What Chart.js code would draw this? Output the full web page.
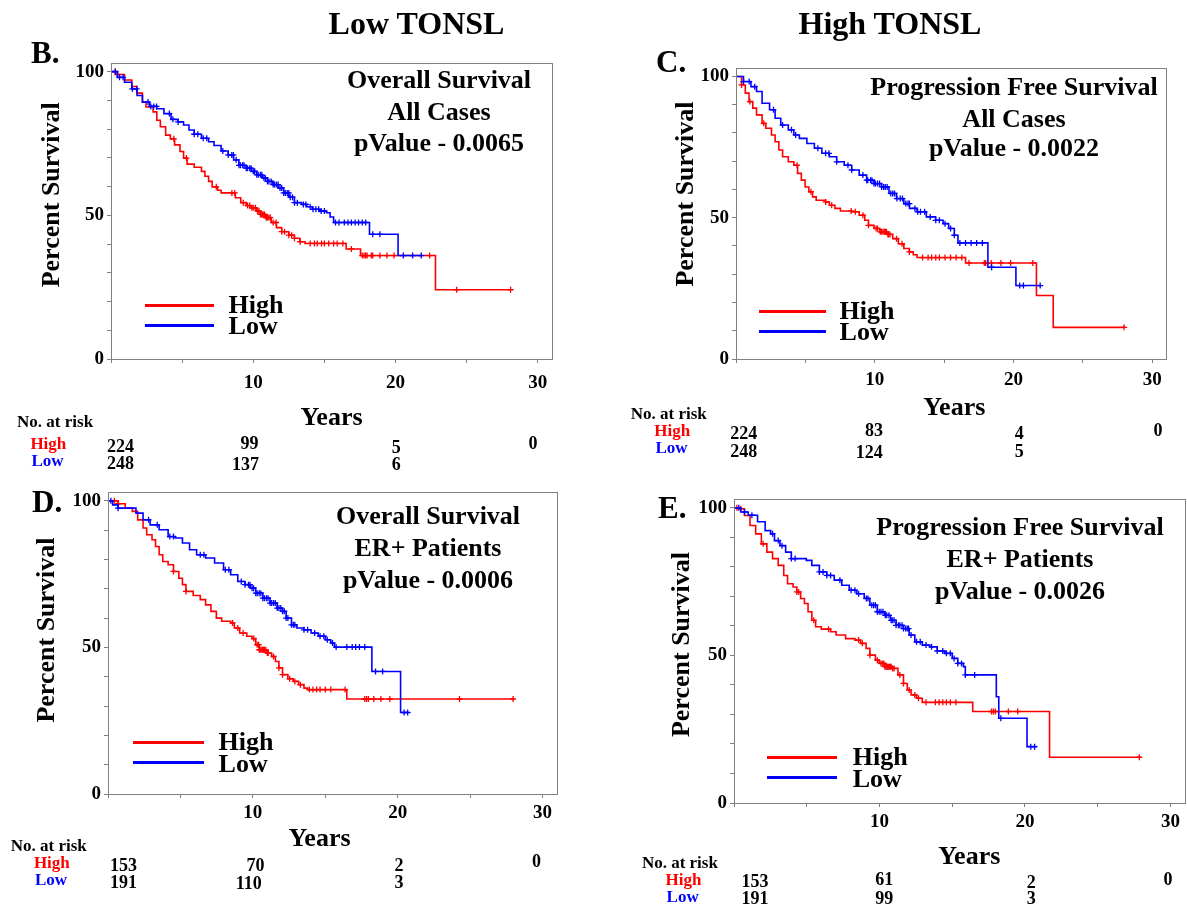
<!DOCTYPE html>
<html><head><meta charset="utf-8">
<script src="https://cdn.jsdelivr.net/npm/chart.js@4.4.1/dist/chart.umd.min.js"></script>
<style>
html,body{margin:0;padding:0;width:1187px;height:905px;overflow:hidden;background:#fff;}
.t{position:absolute;font-family:"Liberation Serif","Times New Roman",Times,serif;font-weight:bold;white-space:pre;line-height:1;color:#000;z-index:5;}
canvas{position:absolute;z-index:1;}
.lg{position:absolute;height:3px;z-index:5;}
</style></head><body>
<script>
// ---------------- DATA ----------------
const groups = ['High', 'Low'];
const xTickLabels = [10, 20, 30];
const yTickLabels = [0, 50, 100];
const headerTitles = ['Low TONSL', 'High TONSL'];

// Panel B : Overall survival, all cases
const B_high_t = [0,0.45,0.95,1.46,1.83,2.21,2.46,2.96,3.22,3.47,3.84,4.17,4.47,4.85,5.1,5.35,5.85,6.36,6.6,6.86,7.11,7.49,7.74,8.74,9.12,9.5,9.87,10.25,10.5,10.88,11.26,11.63,12.0,12.5,12.89,13.27,13.64,16.53,17.54,22.81,28.09];
const B_high_s = [100,99,97.1,94.8,92.5,89.4,87.7,86,83.1,80.8,77.9,76.6,74.5,72.2,69.9,67.8,66.7,65.3,63.6,61.8,59.9,58.7,57.8,56.1,54.4,53.4,52.6,51.5,50.3,49.2,47.5,45.7,44.3,43.1,42,40.8,40.2,38.3,36.0,24.1,24.1];
const B_high_c = [0.3,0.45,4.42,5.3,7.4,8.5,8.7,9.3,9.6,9.75,9.9,10.0,10.15,10.3,10.4,10.5,10.6,10.65,10.7,10.8,10.9,10.95,11.0,11.1,11.2,11.4,11.6,12.0,12.2,12.5,12.7,12.9,13.3,14.0,14.3,14.5,14.8,15.0,15.3,15.65,15.9,16.3,16.9,17.66,17.79,17.9,18.0,18.3,18.4,18.9,19.4,19.9,22.4,24.3,28.09];
const B_low_t = [0,0.45,0.95,1.46,1.83,2.21,2.71,3.22,3.72,4.22,4.72,5.1,5.48,5.85,6.36,6.86,7.24,7.74,8.24,8.62,8.99,9.5,9.87,10.25,10.63,11.0,11.38,11.76,12.14,12.51,12.89,13.39,13.77,14.15,14.65,15.15,15.4,15.65,18.17,20.18,21.81];
const B_low_s = [100,98,96.3,94,91.7,89.4,87.9,87.1,85.4,83.4,82.5,81.4,79.7,78.2,76.8,75.6,74.3,72.4,71,69.3,67.4,66.4,65.3,64.1,63,61.8,60.7,59.5,57.8,56.3,54.4,53.8,53,52.1,51.5,50.9,49.4,47.5,43.4,36.0,36.0];
const B_low_c = [0.3,0.6,0.85,1.5,1.8,2.6,2.8,3.0,3.2,4.1,4.35,4.72,5.85,6.1,6.48,6.73,7.86,8.24,8.49,8.6,8.8,9.0,9.1,9.25,9.35,9.5,9.6,9.75,9.85,10.0,10.1,10.25,10.35,10.5,10.6,10.75,10.85,11.0,11.1,11.26,11.4,11.5,11.63,11.75,11.88,12.0,12.14,12.25,12.39,12.5,12.6,12.76,12.9,13.1,13.52,13.7,14.0,14.2,14.4,14.6,14.77,15.0,15.78,16.03,16.4,16.66,16.9,17.16,17.4,17.66,17.9,18.4,18.9,20.55,21.2,21.81];
const B_riskHigh = [224, 99, 5, 0];
const B_riskLow = [248, 137, 6];
const B_text = ['Overall Survival', 'All Cases', 'pValue - 0.0065'];

// Panel C : Progression free survival, all cases
const C_high_t = [0,0.4,0.67,0.94,1.21,1.48,1.88,2.15,2.56,2.82,3.09,3.36,3.77,4.17,4.44,4.71,4.98,5.25,5.52,5.78,6.46,6.73,7.13,7.53,8.34,8.88,9.28,9.55,9.95,10.36,10.9,11.3,11.7,12.1,12.5,12.78,13.05,16.55,21.66,22.87,27.98];
const C_high_s = [100,97,94.1,91.1,88.8,86.4,83.4,81.7,79.3,76.9,74,71.6,69.8,68.6,65.7,63.3,60.9,59.2,57.4,56.2,55.6,54.4,53.3,52.4,52.1,50.9,49.1,47.3,46.2,45,44.1,42.6,40.8,39.1,37.9,36.9,35.9,34.0,22.5,11.2,11.2];
const C_high_c = [0.4,1.0,2.0,4.4,5.4,6.46,6.9,8.3,8.6,9.15,9.55,10.1,10.2,10.4,10.5,10.6,10.7,10.76,10.85,10.95,11.0,11.1,11.57,11.97,12.5,13.45,13.85,14.1,14.4,14.66,15.07,15.47,15.87,16.28,16.8,17.9,18.0,18.4,19.1,19.8,21.4,27.98];
const C_low_t = [0,0.54,1.08,1.48,1.88,2.42,2.82,3.23,3.77,4.17,4.57,5.11,5.65,6.19,6.73,7.26,7.8,8.34,8.88,9.42,9.95,10.49,11.03,11.57,12.1,12.51,13.05,13.72,14.39,14.93,15.33,15.74,16.0,18.16,20.18,21.93];
const C_low_s = [100,98.2,96.4,94.7,90.5,88.2,85.2,82.8,81.1,79.3,78.1,76.3,74.6,72.8,71.6,69.8,68.6,66.9,65.1,63.3,62.1,60.9,58.6,56.8,55,53.3,52.1,50.3,49.1,47.9,46.2,43.8,41.1,32.5,26.0,26.0];
const C_low_c = [0.54,0.95,1.35,2.7,3.36,4.0,4.3,5.9,6.46,6.7,7.26,8.07,8.34,9.15,9.42,9.5,9.7,9.8,9.95,10.05,10.2,10.35,10.5,10.65,10.76,10.9,11.16,11.3,11.43,11.6,11.84,12.0,12.24,12.4,12.5,12.9,13.1,13.3,13.6,14.0,14.4,14.66,15.07,15.47,15.74,16.14,16.55,16.95,17.35,17.76,18.43,20.45,20.72,21.93];
const C_riskHigh = [224, 83, 4, 0];
const C_riskLow = [248, 124, 5];
const C_text = ['Progression Free Survival', 'All Cases', 'pValue - 0.0022'];

// Panel D : Overall survival, ER+ patients
const D_high_t = [0,0.7,1.19,1.68,2.05,2.42,2.67,3.04,3.28,3.53,3.78,4.15,4.52,4.89,5.14,5.38,5.88,6.37,6.74,7.11,7.48,7.85,8.47,8.72,9.09,9.58,9.95,10.2,10.44,10.94,11.3,11.56,11.8,12.05,12.42,12.79,13.16,13.53,13.78,16.49,27.97];
const D_high_s = [100,99,97.5,96.4,93.5,90.7,88.4,86.7,84.4,81.6,79.3,78.2,75.9,73.6,71.4,69.1,67.7,66.3,64.5,62.3,60,58.9,58.3,56.6,54.9,53.8,53,50.9,49.2,48.1,46.9,45.2,43,40.7,39.3,38.4,37.3,36.1,35.6,32.4,32.4];
const D_high_c = [0.44,0.7,4.52,5.38,8.6,8.96,9.33,10.07,10.3,10.4,10.45,10.5,10.57,10.65,10.7,10.75,10.8,10.9,11.0,11.06,11.43,11.8,12.05,12.54,12.9,13.28,13.9,14.15,14.4,14.64,15.0,15.38,16.37,17.73,17.85,17.98,18.35,18.84,19.46,24.27,27.97];
const D_low_t = [0,0.32,0.69,1.93,2.42,2.91,3.53,4.15,4.64,5.14,5.63,6.12,6.74,7.36,7.98,8.47,8.96,9.46,9.83,10.2,10.69,11.19,11.68,12.05,12.3,12.67,13.04,13.53,14.02,14.52,15.01,15.38,15.63,18.22,20.2,20.69];
const D_low_s = [100,98.6,97.5,95.8,93.5,91.8,90.1,87.8,87.3,85.6,83.3,81.6,80.5,78.8,76.5,74.8,72.5,71.4,70.2,68.5,66.8,65.1,63.4,62.3,60,57.7,56.6,56,54.9,53.8,52.6,51.5,50.1,41.8,27.8,27.8];
const D_low_c = [0.2,0.69,2.8,3.4,4.27,4.52,6.37,6.62,8.1,8.35,9.2,9.46,9.7,9.8,9.95,10.05,10.2,10.3,10.44,10.55,10.69,10.8,10.94,11.05,11.19,11.3,11.43,11.55,11.68,11.8,11.93,12.05,12.17,12.3,12.42,12.67,12.8,12.9,13.53,13.78,14.27,14.64,14.9,15.14,15.5,15.75,16.49,16.86,17.1,17.36,17.73,18.47,18.96,20.44,20.69];
const D_riskHigh = [153, 70, 2, 0];
const D_riskLow = [191, 110, 3];
const D_text = ['Overall Survival', 'ER+ Patients', 'pValue - 0.0006'];

// Panel E : Progression free survival, ER+ patients
const E_high_t = [0,0.33,0.72,1.1,1.49,1.88,2.26,2.65,3.04,3.42,3.68,4.06,4.32,4.58,4.84,5.09,5.35,5.61,6.0,6.64,7.02,7.67,8.31,8.7,9.08,9.34,9.72,9.98,10.37,10.88,11.27,11.65,11.91,12.17,12.55,12.94,16.41,21.69,27.86];
const E_high_s = [100,99.7,97.4,94,91.2,87.8,85,82.8,80.5,77.1,74.3,73.2,71.5,69.3,67.6,64.8,61.9,59.7,58.9,58,56.9,55.7,55.2,54.1,52.4,50.1,48.4,47.3,46.2,45.6,43.4,40.5,38.3,36.6,35.5,34.1,31.0,15.5,15.5];
const E_high_c = [0.2,0.46,2.0,4.32,4.45,5.48,6.5,8.57,8.82,9.34,9.85,10.1,10.2,10.3,10.37,10.45,10.5,10.55,10.62,10.7,10.75,10.8,10.9,11.0,11.4,11.65,12.04,12.43,12.68,13.2,13.84,14.1,14.35,14.6,14.87,15.25,17.7,17.83,17.96,18.86,19.5,27.86];
const E_low_t = [0,0.46,0.98,1.62,2.14,2.52,2.78,3.16,3.55,3.94,4.97,5.35,5.87,6.38,6.89,7.41,7.92,8.44,8.95,9.34,9.85,10.37,10.75,11.14,11.65,12.04,12.43,12.94,13.46,13.97,14.48,15.0,15.38,15.77,15.9,18.03,18.2,20.14,20.79];
const E_low_s = [100,98.6,97.5,95.3,92.3,91.2,88.9,87.2,85,82.8,82.2,80.5,78.3,77.1,75.5,73.8,72.1,70.9,69.3,67,64.8,63.6,61.9,60.2,59.1,56.9,54.6,53.5,52.9,51.5,50.7,49,47.3,46.2,43.4,36.0,28.7,19.1,19.1];
const E_low_c = [0.33,0.72,1.23,2.65,3.04,3.3,3.94,4.2,5.87,6.12,6.38,6.64,7.28,8.05,8.31,8.57,9.1,9.21,9.47,9.6,9.72,9.85,9.98,10.1,10.24,10.4,10.5,10.65,10.8,10.88,11.0,11.14,11.3,11.4,11.55,11.65,11.8,11.91,12.0,12.17,12.55,12.8,13.2,13.58,13.97,14.35,14.6,14.87,15.13,15.38,15.64,15.9,16.54,18.34,20.4,20.66];
const E_riskHigh = [153, 61, 2, 0];
const E_riskLow = [191, 99, 3];
const E_text = ['Progression Free Survival', 'ER+ Patients', 'pValue - 0.0026'];

// ---------------- STYLE / LAYOUT ----------------
const FONT = '"Liberation Serif","Times New Roman",Times,serif';
const RED = '#ff0000', BLUE = '#0000ff', GRAY = '#808080';

const panels = [
  { letter:'B.', letterPos:[31,63],
    high:[B_high_t,B_high_s,B_high_c], low:[B_low_t,B_low_s,B_low_c], text:B_text, riskHigh:B_riskHigh, riskLow:B_riskLow,
    canvas:[0,40,580,440], area:[111,63,552,359], yTitleX:52, yLead:5, xTitleY:418.3, xLead:0, xTrail:0, xTickPad:10.5,
    textX:439, textBase:[89,121,151.7],
    leg:{x0:144.6,x1:214.3,y:[305.7,325],lx:228.6,lb:[314,335]},
    risk:{hx:17.1,hb:427.7, gx:[30.4,31.4], gb:[449.3,466.7],
          highX:[107.1,240.4,391.8,528.6], highB:[451.7,449.3,452.7,449.3],
          lowX:[107.1,232.1,391.8], lowB:[469.3,470,470]} },
  { letter:'C.', letterPos:[656,71.7],
    high:[C_high_t,C_high_s,C_high_c], low:[C_low_t,C_low_s,C_low_c], text:C_text, riskHigh:C_riskHigh, riskLow:C_riskLow,
    canvas:[600,40,1195,440], area:[736,68,1166,359], yTitleX:686, yLead:6, xTitleY:408.3, xLead:1, xTrail:0, xTickPad:7.5,
    textX:1014, textBase:[96,127.3,156.7],
    leg:{x0:759,x1:826,y:[311.7,331],lx:839.6,lb:[320,340.7]},
    risk:{hx:630.7,hb:419.3, gx:[654.3,655.4], gb:[436.7,453.3],
          highX:[730.3,865.1,1014.8,1153.4], highB:[439.3,436,439.3,436],
          lowX:[730.3,855.7,1014.8], lowB:[456.7,458.3,457.3]} },
  { letter:'D.', letterPos:[32,511.7],
    high:[D_high_t,D_high_s,D_high_c], low:[D_low_t,D_low_s,D_low_c], text:D_text, riskHigh:D_riskHigh, riskLow:D_riskLow,
    canvas:[0,470,580,905], area:[108,492,557,794], yTitleX:47.3, yLead:4, xTitleY:839.3, xLead:0, xTrail:4, xTickPad:5.8,
    textX:428, textBase:[525,556.7,588.3],
    leg:{x0:133,x1:203.6,y:[742.7,762.3],lx:218.6,lb:[751,772.7]},
    risk:{hx:10.7,hb:851, gx:[33.9,35], gb:[868.3,885],
          highX:[110,246.4,394.6,532.1], highB:[871,871,871,866.7],
          lowX:[110,235.7,394.6], lowB:[888.3,889.3,888.3]} },
  { letter:'E.', letterPos:[658,517.7],
    high:[E_high_t,E_high_s,E_high_c], low:[E_low_t,E_low_s,E_low_c], text:E_text, riskHigh:E_riskHigh, riskLow:E_riskLow,
    canvas:[600,470,1195,905], area:[734,499,1185,803], yTitleX:682.4, yLead:2, xTitleY:857.7, xLead:3, xTrail:0, xTickPad:5.2,
    textX:1020, textBase:[536,567.7,600],
    leg:{x0:766.6,x1:837,y:[757.7,777.7],lx:852.7,lb:[765.7,787.7]},
    risk:{hx:641.9,hb:868.3, gx:[665.5,666.6], gb:[885,902.3],
          highX:[741.5,875.2,1026.8,1163.5], highB:[886.7,885,888.3,885],
          lowX:[741.5,875.2,1026.8], lowB:[904,904,904]} }
];

// ---------------- HELPERS ----------------
function T(text, x, base, size, color, align) {
  const d = document.createElement('div');
  d.className = 't';
  d.textContent = text;
  d.style.fontSize = size + 'px';
  d.style.left = x + 'px';
  d.style.top = (base - 0.8375 * size) + 'px';
  if (color) d.style.color = color;
  if (align === 'center') d.style.transform = 'translateX(-50%)';
  else if (align === 'right') d.style.transform = 'translateX(-100%)';
  document.body.appendChild(d);
}
function curve(t, s) { return t.map((x, i) => ({ x: x, y: s[i] })); }
function censor(t, s, c) {
  return c.map(x => {
    let y = s[0];
    for (let i = 0; i < t.length; i++) if (t[i] <= x) y = s[i];
    return { x: x, y: y };
  });
}
const framePlugin = {
  id: 'frame',
  afterDatasetsDraw(chart) {
    const { ctx, chartArea: a } = chart;
    ctx.save();
    ctx.strokeStyle = GRAY; ctx.lineWidth = 1;
    ctx.strokeRect(Math.round(a.left) + 0.5, Math.round(a.top) + 0.5, Math.round(a.right - a.left), Math.round(a.bottom - a.top));
    ctx.restore();
  }
};

Chart.defaults.font.family = FONT;

// ---------------- BUILD ----------------
T(headerTitles[0], 416.5, 34, 32, null, 'center');
T(headerTitles[1], 890, 34, 32, null, 'center');

panels.forEach(p => {
  const [cx0, cy0, cx1, cy1] = p.canvas;
  const [l, t, r, b] = p.area;
  const W = cx1 - cx0, H = cy1 - cy0;
  const c = document.createElement('canvas');
  c.width = W; c.height = H;
  c.style.left = cx0 + 'px'; c.style.top = cy0 + 'px';
  c.style.width = W + 'px'; c.style.height = H + 'px';
  document.body.appendChild(c);
  const yW = l - cx0, xH = cy1 - b;
  const tickFont = { family: FONT, size: 19, weight: 'bold', lineHeight: 1 };
  const titleFont = { family: FONT, size: 26, weight: 'bold', lineHeight: 1 };
  const [ht, hs, hc] = p.high, [lt, ls, lc] = p.low;
  new Chart(c, {
    type: 'line',
    data: {
      datasets: [
        { label: groups[0], data: curve(ht, hs), borderColor: RED, borderWidth: 1.6, stepped: true, pointRadius: 0, fill: false, order: 2 },
        { label: groups[1], data: curve(lt, ls), borderColor: BLUE, borderWidth: 1.6, stepped: true, pointRadius: 0, fill: false, order: 1 },
        { type: 'scatter', label: groups[0] + ' censored', data: censor(ht, hs, hc), pointStyle: 'cross', pointRadius: 3, borderWidth: 1.3, borderColor: RED, backgroundColor: RED, clip: false, order: 2 },
        { type: 'scatter', label: groups[1] + ' censored', data: censor(lt, ls, lc), pointStyle: 'cross', pointRadius: 3, borderWidth: 1.3, borderColor: BLUE, backgroundColor: BLUE, clip: false, order: 1 }
      ]
    },
    options: {
      responsive: false, animation: false, devicePixelRatio: 1,
      events: [],
      layout: { padding: { left: 0, top: t - cy0, right: cx1 - r, bottom: 0 } },
      plugins: { legend: { display: false }, tooltip: { enabled: false } },
      scales: {
        x: {
          type: 'linear', position: 'bottom', min: 0, max: 31,
          afterFit: s => { s.height = xH; },
          border: { display: true, color: GRAY, width: 1 },
          grid: { display: true, drawOnChartArea: false, drawTicks: true, tickLength: 4, color: GRAY },
          ticks: { stepSize: 5, includeBounds: false, autoSkip: false, maxRotation: 0, padding: p.xTickPad, color: '#000', font: tickFont,
                   callback: v => xTickLabels.includes(v) ? String(v) : '' },
          title: { display: true, text: ' '.repeat(p.xLead) + 'Years' + ' '.repeat(p.xTrail), color: '#000', font: titleFont,
                   padding: { top: 0, bottom: (cy1 - 13) - p.xTitleY } }
        },
        y: {
          type: 'linear', position: 'left', min: 0, max: 103,
          afterFit: s => { s.width = yW; },
          border: { display: true, color: GRAY, width: 1 },
          grid: { display: true, drawOnChartArea: false, drawTicks: true, tickLength: 4, color: GRAY },
          ticks: { stepSize: 10, includeBounds: false, autoSkip: false, padding: 3, color: '#000', font: tickFont,
                   callback: v => yTickLabels.includes(v) ? String(v) : '' },
          title: { display: true, text: ' '.repeat(p.yLead) + 'Percent Survival', color: '#000', font: titleFont,
                   padding: { top: p.yTitleX - cx0 - 13, bottom: 0 } }
        }
      }
    },
    plugins: [framePlugin]
  });

  // panel letter
  T(p.letter, p.letterPos[0], p.letterPos[1], 31);
  // annotation
  p.text.forEach((s, i) => T(s, p.textX, p.textBase[i], 26, null, 'center'));
  // legend
  [RED, BLUE].forEach((col, i) => {
    const d = document.createElement('div');
    d.className = 'lg';
    d.style.background = col;
    d.style.left = p.leg.x0 + 'px';
    d.style.width = (p.leg.x1 - p.leg.x0) + 'px';
    d.style.top = (p.leg.y[i] - 1.5) + 'px';
    document.body.appendChild(d);
    T(groups[i], p.leg.lx, p.leg.lb[i], 26);
  });
  // number at risk table
  const rk = p.risk;
  T('No. at risk', rk.hx, rk.hb, 17);
  T(groups[0], rk.gx[0], rk.gb[0], 17, RED);
  T(groups[1], rk.gx[1], rk.gb[1], 17, BLUE);
  p.riskHigh.forEach((v, i) => T(String(v), rk.highX[i], rk.highB[i], 18));
  p.riskLow.forEach((v, i) => T(String(v), rk.lowX[i], rk.lowB[i], 18));
});
</script>
</body></html>
